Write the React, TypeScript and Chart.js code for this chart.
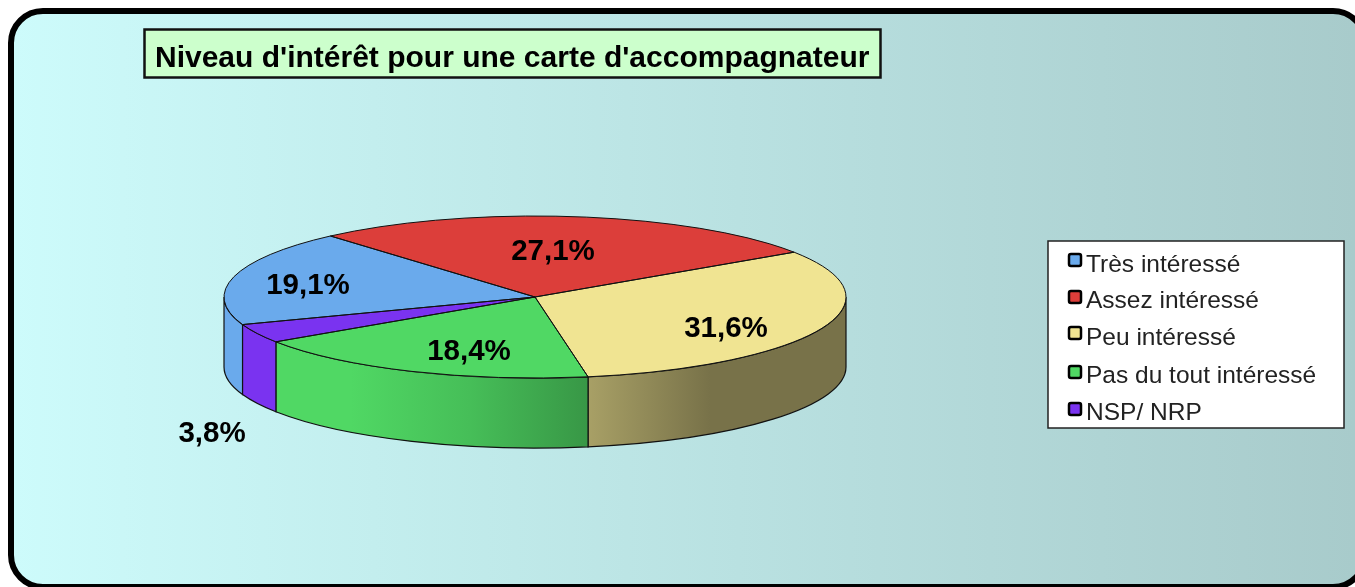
import React, { useEffect, useRef } from "react";
import { Chart, registerables } from "chart.js";

Chart.register(...registerables);

const TITLE = "Niveau d'intérêt pour une carte d'accompagnateur";
const categories = ["Très intéressé", "Assez intéressé", "Peu intéressé", "Pas du tout intéressé", "NSP/ NRP"];
const percentages = [19.1, 27.1, 31.6, 18.4, 3.8];
const sliceColors = ["#6aaaec", "#dc3e3a", "#f0e492", "#50d864", "#7a33f0"];

// layout (pixels)
const W = 1355;
const H = 587;
const PIE = { left: 224, right: 846, top: 216, bottom: 378, depth: 70, rotation: -109.9 };
const labelOffsets = [
  [-227, -11],
  [18, -45],
  [191, 32],
  [-66, 55],
  [-323, 137],
];
const LEGEND = { x: 1048, y: 241, w: 296, h: 187, swatchX: 1069, swatchSize: 12, textX: 1086 };
const legendBaselines = [272, 308, 345, 383, 420];
const legendSwatchY = [254, 291, 327, 366, 403];
const shadeStops: [number, number][] = [
  [224, 1],
  [350, 1],
  [470, 0.88],
  [588, 0.7],
  [710, 0.5],
  [846, 0.5],
];

function shade(hex: string, k: number) {
  const n = parseInt(hex.slice(1), 16);
  const c = [(n >> 16) & 255, (n >> 8) & 255, n & 255].map((v) => Math.round(v * k));
  return `rgb(${c[0]},${c[1]},${c[2]})`;
}

const xScaleFor = (arc: any) => (PIE.right - PIE.left) / 2 / arc.outerRadius;

const pie3d = {
  id: "pie3d",
  beforeDraw(chart: any) {
    const ctx = chart.ctx;
    ctx.save();
    ctx.fillStyle = "#fff";
    ctx.fillRect(0, 0, W, H);
    const g = ctx.createLinearGradient(11, 0, 1355, 0);
    g.addColorStop(0, "#cdfbfb");
    g.addColorStop(1, "#a8cbcb");
    ctx.beginPath();
    ctx.roundRect(11, 11, 1354, 576, 32);
    ctx.fillStyle = g;
    ctx.fill();
    ctx.lineWidth = 6;
    ctx.strokeStyle = "#000";
    ctx.stroke();
    ctx.restore();
  },
  beforeDatasetsDraw(chart: any) {
    const ctx = chart.ctx;
    const arcs = chart.getDatasetMeta(0).data;
    ctx.save();
    arcs.forEach((arc: any, i: number) => {
      const rx = arc.outerRadius * xScaleFor(arc);
      const ry = arc.outerRadius;
      const tau = Math.PI * 2;
      for (const shift of [-tau, 0, tau]) {
        const a0 = Math.max(arc.startAngle + shift, 0);
        const a1 = Math.min(arc.endAngle + shift, Math.PI);
        if (a1 <= a0) continue;
        const g = ctx.createLinearGradient(PIE.left, 0, PIE.right, 0);
        shadeStops.forEach(([x, k]) => {
          g.addColorStop((x - PIE.left) / (PIE.right - PIE.left), shade(sliceColors[i], k));
        });
        ctx.beginPath();
        ctx.ellipse(arc.x, arc.y, rx, ry, 0, a0, a1);
        ctx.ellipse(arc.x, arc.y + PIE.depth, rx, ry, 0, a1, a0, true);
        ctx.closePath();
        ctx.fillStyle = g;
        ctx.fill();
        ctx.lineWidth = 1.2;
        ctx.strokeStyle = "#111";
        ctx.stroke();
      }
    });
    ctx.restore();
    const a = arcs[0];
    ctx.save();
    ctx.translate(a.x, a.y);
    ctx.scale(xScaleFor(a), 1);
    ctx.translate(-a.x, -a.y);
  },
  afterDatasetsDraw(chart: any) {
    const ctx = chart.ctx;
    ctx.restore();
    const arcs = chart.getDatasetMeta(0).data;
    arcs.forEach((arc: any) => {
      ctx.beginPath();
      ctx.moveTo(arc.x, arc.y);
      ctx.ellipse(arc.x, arc.y, arc.outerRadius * xScaleFor(arc), arc.outerRadius, 0, arc.startAngle, arc.endAngle);
      ctx.closePath();
      ctx.lineWidth = 1;
      ctx.strokeStyle = "#111";
      ctx.stroke();
    });
    ctx.fillStyle = "#000";
    ctx.font = 'bold 29.5px "Liberation Sans"';
    ctx.textAlign = "center";
    ctx.textBaseline = "middle";
    arcs.forEach((arc: any, i: number) => {
      const txt = percentages[i].toFixed(1).replace(".", ",") + "%";
      ctx.fillText(txt, arc.x + labelOffsets[i][0], arc.y + labelOffsets[i][1]);
    });

    // title box
    ctx.fillStyle = "#ccffcc";
    ctx.fillRect(144.5, 29.5, 736, 48);
    ctx.lineWidth = 2.5;
    ctx.strokeStyle = "#111";
    ctx.strokeRect(144.5, 29.5, 736, 48);
    ctx.fillStyle = "#000";
    ctx.font = 'bold 30px "Liberation Sans"';
    ctx.textAlign = "left";
    ctx.textBaseline = "alphabetic";
    ctx.fillText(TITLE, 155, 67);

    // legend
    ctx.fillStyle = "#fff";
    ctx.fillRect(LEGEND.x, LEGEND.y, LEGEND.w, LEGEND.h);
    ctx.lineWidth = 1.5;
    ctx.strokeStyle = "#222";
    ctx.strokeRect(LEGEND.x, LEGEND.y, LEGEND.w, LEGEND.h);
    ctx.font = '24.5px "Liberation Sans"';
    categories.forEach((c, i) => {
      ctx.beginPath();
      ctx.roundRect(LEGEND.swatchX, legendSwatchY[i], LEGEND.swatchSize, LEGEND.swatchSize, 2);
      ctx.fillStyle = sliceColors[i];
      ctx.fill();
      ctx.lineWidth = 2.5;
      ctx.strokeStyle = "#000";
      ctx.stroke();
      ctx.fillStyle = "#222";
      ctx.fillText(c, LEGEND.textX, legendBaselines[i]);
    });
  },
};

export default function App() {
  const ref = useRef<HTMLCanvasElement>(null);
  useEffect(() => {
    const chart = new Chart(ref.current!, {
      type: "pie",
      data: {
        labels: categories,
        datasets: [
          {
            data: percentages,
            backgroundColor: sliceColors,
            borderWidth: 0,
            clip: false,
          } as any,
        ],
      },
      options: {
        animation: false,
        responsive: false,
        rotation: PIE.rotation,
        layout: {
          padding: { left: PIE.left, right: W - PIE.right, top: PIE.top, bottom: H - PIE.bottom },
        },
        plugins: { legend: { display: false }, title: { display: false }, tooltip: { enabled: false } },
      } as any,
      plugins: [pie3d],
    });
    return () => chart.destroy();
  }, []);
  return (
    <div style={{ position: "fixed", left: 0, top: 0, width: W, height: H, overflow: "hidden" }}>
      <canvas ref={ref} width={W} height={H} style={{ display: "block", filter: "blur(0.7px)" }} />
    </div>
  );
}
